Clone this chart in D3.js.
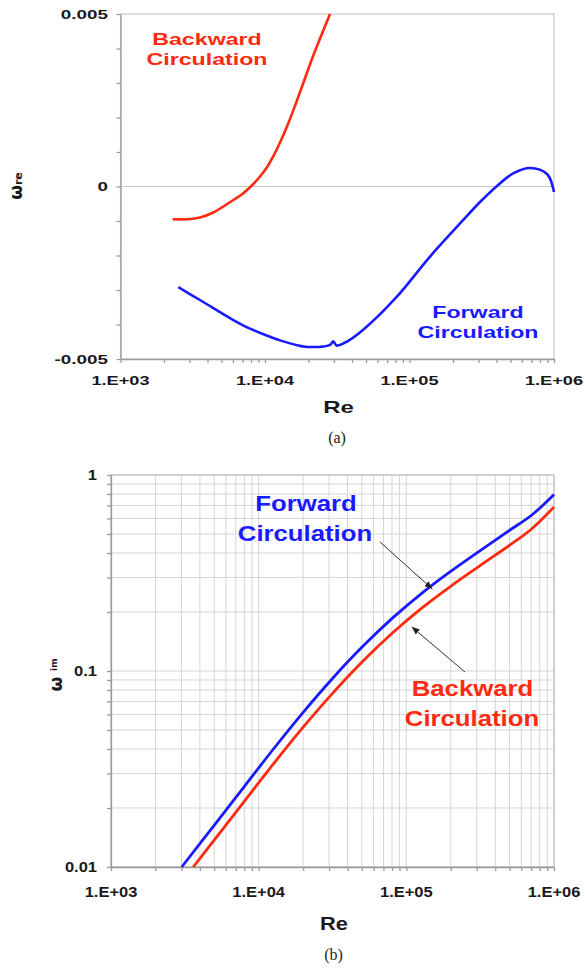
<!DOCTYPE html>
<html><head><meta charset="utf-8">
<script src="https://cdn.jsdelivr.net/npm/d3@7"></script>
<style>body{margin:0;background:#fff} svg{display:block}</style>
</head><body>
<svg id="c" width="585" height="968"></svg>
<script>
// ---------- data: panel (a)  omega_re vs Re ----------
const reBackA = [2296, 2870, 3548, 4385, 6040, 7050, 8300, 9235, 10323, 11542, 12898, 14428, 16128, 18037, 21600, 28200];
const omBackA = [-0.00095, -0.00095, -0.0009, -0.000754, -0.000391, -0.0002, 0.000072, 0.000290, 0.000559, 0.000916, 0.001333, 0.001809, 0.002336, 0.002896, 0.003797, 0.005];
const reFwdA = [2512, 3548, 6040, 7870, 10280, 12700, 17460, 19540, 28200, 29700, 31360, 36740, 47600, 81500, 138700, 235700, 307600, 401500, 522400, 682000, 895000, 1000000];
const omFwdA = [-0.00292, -0.00329, -0.00387, -0.00412, -0.00432, -0.00446, -0.00462, -0.00465, -0.00459, -0.00449, -0.00461, -0.0045, -0.00416, -0.0032, -0.00203, -0.00097, -0.00045, 0.00001, 0.00038, 0.000536, 0.000362, -0.00016];
// ---------- data: panel (b)  omega_im vs Re ----------
const reFwdB = [3013, 5012, 7943, 12589, 19953, 31623, 50119, 79433, 125893, 199526, 316228, 501187, 707946, 1000000];
const omFwdB = [0.0100, 0.01637, 0.02559, 0.0400, 0.06138, 0.09162, 0.1324, 0.1845, 0.2477, 0.3221, 0.4111, 0.5224, 0.6252, 0.796];
const reBackB = [3606, 5012, 7943, 12589, 19953, 31623, 50119, 79433, 125893, 199526, 316228, 501187, 707946, 1000000];
const omBackB = [0.0100, 0.01374, 0.02148, 0.03357, 0.05152, 0.07691, 0.1112, 0.1549, 0.2080, 0.2704, 0.3451, 0.4385, 0.5321, 0.6871];
// ticks
const xTickVals = [1e3, 1e4, 1e5, 1e6];
const xTickLabels = ["1.E+03", "1.E+04", "1.E+05", "1.E+06"];
const yTickValsA = [0.005, 0, -0.005];
const yTickLabelsA = ["0.005", "0", "-0.005"];
const yTickValsB = [1, 0.1, 0.01];
const yTickLabelsB = ["1", "0.1", "0.01"];
// annotation arrows for panel (b): [from Re, from w, to Re, to w]
const arrowFwd = [66400, 0.455, 150000, 0.262];
const arrowBack = [249500, 0.0989, 108700, 0.168];

const RED = "#ff2a10", BLUE = "#1a1aff";
const svg = d3.select("#c");
const SANS = "'Liberation Sans', Arial, Helvetica, sans-serif";

function stext(g, x, y, str, o) {
  return g.append("text")
    .attr("transform", `translate(${x},${y}) scale(${o.sx || 1},1)`)
    .attr("text-anchor", o.anchor || "middle")
    .attr("font-family", o.family || SANS)
    .attr("font-weight", o.weight || "bold")
    .attr("font-size", o.size)
    .attr("dy", o.dy || 0)
    .attr("fill", o.fill || "#1a1a1a")
    .text(str);
}
const minorLog = (a, b) => { const r = []; for (let k = a; k < b; k++) for (let m = 1; m <= 9; m++) r.push(m * Math.pow(10, k)); r.push(Math.pow(10, b)); return r; };
const smooth = d3.curveCatmullRom.alpha(0.5);

// ================= Panel (a) =================
const A = {l: 120.5, r: 554, t: 14, b: 359};
const xA = d3.scaleLog().domain([1e3, 1e6]).range([A.l, A.r]);
const yA = d3.scaleLinear().domain([-0.005, 0.005]).range([A.b, A.t]);
const gA = svg.append("g");
gA.append("rect").attr("x", A.l).attr("y", A.t).attr("width", A.r - A.l).attr("height", A.b - A.t)
  .attr("fill", "none").attr("stroke", "#c8c8c8").attr("stroke-width", 1.2);
gA.append("line").attr("x1", A.l).attr("x2", A.r).attr("y1", yA(0)).attr("y2", yA(0))
  .attr("stroke", "#c8c8c8").attr("stroke-width", 1.2);
const axA_y = gA.append("g").attr("transform", `translate(${A.l},0)`)
  .call(d3.axisLeft(yA).tickValues(d3.range(-5, 6).map(d => d * 0.001)).tickSize(4).tickSizeOuter(0).tickFormat(() => ""));
const axA_x = gA.append("g").attr("transform", `translate(0,${A.b})`)
  .call(d3.axisBottom(xA).tickValues(minorLog(3, 6)).tickSize(4).tickSizeOuter(0).tickFormat(() => ""));
[axA_y, axA_x].forEach(a => { a.selectAll("path,line").attr("stroke", "#9a9a9a").attr("stroke-width", 1.3); });

yTickValsA.forEach((v, i) => stext(gA, 108, yA(v), yTickLabelsA[i], {size: 13, sx: 1.45, anchor: "end", dy: "0.35em"}));
xTickVals.forEach((v, i) => stext(gA, xA(v), 385, xTickLabels[i], {size: 13, sx: 1.4}));
stext(gA, 338.5, 413, "Re", {size: 16, sx: 1.5});
stext(gA, 337, 443, "(a)", {size: 16, family: "'Liberation Serif', 'Times New Roman', serif", weight: "normal", fill: "#222"});
// y label
const ylA = gA.append("text").attr("transform", "translate(22,186) rotate(-90)").attr("text-anchor", "middle")
  .attr("font-family", "'DejaVu Sans', sans-serif").attr("font-weight", "bold").attr("fill", "#1a1a1a");
ylA.append("tspan").attr("font-size", 17).text("ω");
ylA.append("tspan").attr("font-size", 11).text("re");

const lineA = d3.line().x(d => xA(d[0])).y(d => yA(d[1])).curve(smooth);
gA.append("path").datum(d3.zip(reBackA, omBackA)).attr("d", lineA)
  .attr("fill", "none").attr("stroke", RED).attr("stroke-width", 2.6);
gA.append("path").datum(d3.zip(reFwdA, omFwdA)).attr("d", lineA)
  .attr("fill", "none").attr("stroke", BLUE).attr("stroke-width", 2.6);

stext(gA, 207, 45, "Backward", {size: 16, sx: 1.45, fill: RED});
stext(gA, 207, 64.5, "Circulation", {size: 16, sx: 1.45, fill: RED});
stext(gA, 478, 318, "Forward", {size: 16, sx: 1.45, fill: BLUE});
stext(gA, 478, 338, "Circulation", {size: 16, sx: 1.45, fill: BLUE});

// ================= Panel (b) =================
const B = {l: 111, r: 554, t: 475, b: 867};
const xB = d3.scaleLog().domain([1e3, 1e6]).range([B.l, B.r]);
const yB = d3.scaleLog().domain([0.01, 1]).range([B.b, B.t]);
const gB = svg.append("g");
const gvx = minorLog(3, 6), gvy = minorLog(-2, 0);
gB.append("g").selectAll("line").data(gvx).join("line")
  .attr("x1", d => xB(d)).attr("x2", d => xB(d)).attr("y1", B.t).attr("y2", B.b)
  .attr("stroke", "#d6d6d6").attr("stroke-width", 1);
gB.append("g").selectAll("line").data(gvy).join("line")
  .attr("y1", d => yB(d)).attr("y2", d => yB(d)).attr("x1", B.l).attr("x2", B.r)
  .attr("stroke", "#d6d6d6").attr("stroke-width", 1);
gB.append("rect").attr("x", B.l).attr("y", B.t).attr("width", B.r - B.l).attr("height", B.b - B.t)
  .attr("fill", "none").attr("stroke", "#c0c0c0").attr("stroke-width", 1.2);
const axB_y = gB.append("g").attr("transform", `translate(${B.l},0)`)
  .call(d3.axisLeft(yB).tickValues(gvy).tickSize(4).tickSizeOuter(0).tickFormat(() => ""));
const axB_x = gB.append("g").attr("transform", `translate(0,${B.b})`)
  .call(d3.axisBottom(xB).tickValues(gvx).tickSize(4).tickSizeOuter(0).tickFormat(() => ""));
[axB_y, axB_x].forEach(a => { a.selectAll("path,line").attr("stroke", "#9a9a9a").attr("stroke-width", 1.3); });

yTickValsB.forEach((v, i) => stext(gB, 97, yB(v), yTickLabelsB[i], {size: 15, sx: 1.1, anchor: "end", dy: "0.35em"}));
xTickVals.forEach((v, i) => stext(gB, xB(v), 897, xTickLabels[i], {size: 15, sx: 1.1}));
stext(gB, 334, 930, "Re", {size: 18.5, sx: 1.18});
stext(gB, 333.5, 960, "(b)", {size: 16, family: "'Liberation Serif', 'Times New Roman', serif", weight: "normal", fill: "#222"});
const ylB = gB.append("text").attr("transform", "translate(62,675) rotate(-90)").attr("text-anchor", "middle")
  .attr("font-family", "'DejaVu Sans', sans-serif").attr("font-weight", "bold").attr("fill", "#1a1a1a");
ylB.append("tspan").attr("font-size", 17).text("ω ");
ylB.append("tspan").attr("font-size", 9).attr("dy", -5).text("im");

const lineB = d3.line().x(d => xB(d[0])).y(d => yB(d[1])).curve(smooth);
gB.append("path").datum(d3.zip(reBackB, omBackB)).attr("d", lineB)
  .attr("fill", "none").attr("stroke", RED).attr("stroke-width", 2.8);
gB.append("path").datum(d3.zip(reFwdB, omFwdB)).attr("d", lineB)
  .attr("fill", "none").attr("stroke", BLUE).attr("stroke-width", 2.8);

svg.append("defs").append("marker").attr("id", "ah").attr("viewBox", "0 0 10 10")
  .attr("refX", 10).attr("refY", 5).attr("markerWidth", 8).attr("markerHeight", 8)
  .attr("markerUnits", "userSpaceOnUse").attr("orient", "auto")
  .append("path").attr("d", "M0,1 L10,5 L0,9 Z").attr("fill", "#222");
[arrowFwd, arrowBack].forEach(a => {
  gB.append("line").attr("x1", xB(a[0])).attr("y1", yB(a[1])).attr("x2", xB(a[2])).attr("y2", yB(a[3]))
    .attr("stroke", "#333").attr("stroke-width", 1).attr("marker-end", "url(#ah)");
});

stext(gB, 306, 511, "Forward", {size: 22, sx: 1.17, fill: BLUE});
stext(gB, 305, 541, "Circulation", {size: 22, sx: 1.17, fill: BLUE});
stext(gB, 472.5, 696, "Backward", {size: 22, sx: 1.17, fill: RED});
stext(gB, 472, 726, "Circulation", {size: 22, sx: 1.17, fill: RED});
</script>
</body></html>
